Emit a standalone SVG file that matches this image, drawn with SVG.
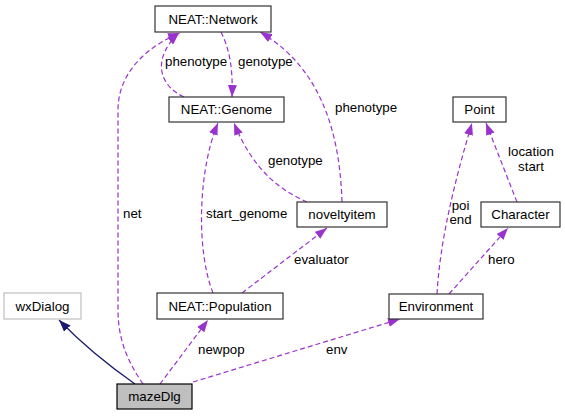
<svg xmlns="http://www.w3.org/2000/svg" width="565" height="416" viewBox="0 0 565 416">
<style>
text{font-family:"Liberation Sans",Arial,sans-serif;font-size:13.3px;fill:#000}
.n text{text-anchor:middle}
.box{fill:#fff;stroke:#333;stroke-width:1.2}
.ed{fill:none;stroke:#9a32cd;stroke-width:1.2;stroke-dasharray:5,3}
.inh{fill:none;stroke:#191970;stroke-width:1.2}
</style>
<defs>
<marker id="ap" markerUnits="userSpaceOnUse" markerWidth="12" markerHeight="9" refX="12" refY="4.5" orient="auto"><path d="M0,0 L12,4.5 L0,9 z" fill="#9a32cd"/></marker>
<marker id="an" markerUnits="userSpaceOnUse" markerWidth="12" markerHeight="9" refX="12" refY="4.5" orient="auto"><path d="M0,0 L12,4.5 L0,9 z" fill="#191970"/></marker>
</defs>
<rect width="565" height="416" fill="#fff"/>
<g id="edges">
<path class="inh" d="M135,384 C115,370 88,350 59,320" marker-end="url(#an)"/>
<path class="ed" d="M143,384 C128,362 118,340 118,310 L118,110 C118,72 148,46 180,33" marker-end="url(#ap)"/>
<path class="ed" d="M184,97 C158,85 152,58 179,33" marker-end="url(#ap)"/>
<path class="ed" d="M221,32 C230,50 233,70 232,97" marker-end="url(#ap)"/>
<path class="ed" d="M342,202 C340,140 325,70 260,32" marker-end="url(#ap)"/>
<path class="ed" d="M307,202 C285,192 255,175 234,123" marker-end="url(#ap)"/>
<path class="ed" d="M213,293 C196,250 198,170 218,123" marker-end="url(#ap)"/>
<path class="ed" d="M242,293 L327,228" marker-end="url(#ap)"/>
<path class="ed" d="M160,384 L208,320" marker-end="url(#ap)"/>
<path class="ed" d="M193,382 L400,319" marker-end="url(#ap)"/>
<path class="ed" d="M437,294 C440,240 455,180 472,123" marker-end="url(#ap)"/>
<path class="ed" d="M449,294 L508,228" marker-end="url(#ap)"/>
<path class="ed" d="M517,202 L486,123" marker-end="url(#ap)"/>
<text x="123" y="218">net</text>
<text x="165" y="66">phenotype</text>
<text x="238" y="66">genotype</text>
<text x="335" y="112">phenotype</text>
<text x="268" y="165">genotype</text>
<text x="206" y="218">start_genome</text>
<text x="294" y="264">evaluator</text>
<text x="198" y="354">newpop</text>
<text x="326" y="354">env</text>
<text x="460.5" y="210" text-anchor="middle">poi</text>
<text x="460.5" y="224" text-anchor="middle">end</text>
<text x="488" y="264">hero</text>
<text x="531" y="156" text-anchor="middle">location</text>
<text x="531" y="171" text-anchor="middle">start</text>
</g>
<g id="network" class="n"><rect class="box" x="155" y="6" width="116" height="26"/><text x="213" y="23.5">NEAT::Network</text></g>
<g id="genome" class="n"><rect class="box" x="169" y="97" width="115" height="25"/><text x="226.5" y="114">NEAT::Genome</text></g>
<g id="point" class="n"><rect class="box" x="453" y="97" width="53" height="25"/><text x="479.5" y="114">Point</text></g>
<g id="character" class="n"><rect class="box" x="481" y="202" width="79" height="25"/><text x="520.5" y="219">Character</text></g>
<g id="noveltyitem" class="n"><rect class="box" x="297" y="202" width="90" height="25"/><text x="342" y="219">noveltyitem</text></g>
<g id="wxdialog" class="n"><rect x="4" y="293" width="77" height="26" fill="#fff" stroke="#bfbfbf" stroke-width="1.2"/><text x="42.5" y="310.5">wxDialog</text></g>
<g id="population" class="n"><rect class="box" x="157" y="293" width="126" height="26"/><text x="220" y="310.5">NEAT::Population</text></g>
<g id="environment" class="n"><rect class="box" x="389" y="294" width="94" height="25"/><text x="436" y="311">Environment</text></g>
<g id="mazedlg" class="n"><rect x="117" y="384" width="75" height="25" fill="#bfbfbf" stroke="#000" stroke-width="1.2"/><text x="154.5" y="401">mazeDlg</text></g>
</svg>
